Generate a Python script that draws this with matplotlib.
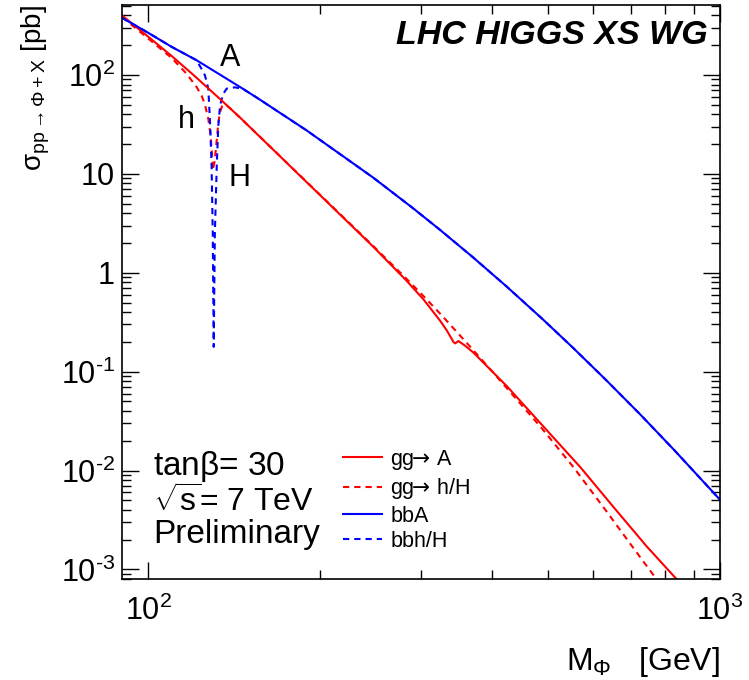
import numpy as np
import matplotlib
matplotlib.use('Agg')
import matplotlib.pyplot as plt
from matplotlib.lines import Line2D
from matplotlib.ticker import FixedLocator, FuncFormatter, LogLocator, NullFormatter

plt.rcParams['font.family'] = ['Liberation Sans', 'DejaVu Sans']
plt.rcParams['mathtext.fontset'] = 'custom'
plt.rcParams['mathtext.rm'] = 'Liberation Sans'
plt.rcParams['mathtext.it'] = 'Liberation Sans:italic'
plt.rcParams['mathtext.bf'] = 'Liberation Sans:bold'
plt.rcParams['mathtext.sf'] = 'DejaVu Sans'

## cross sections in pb (tanb = 30, 7 TeV)
M_ggA = [90, 100, 110, 120, 133.6, 144.7, 189.3, 247.6, 283.3, 302.9, 324, 333, 342,
         344.3, 348.7, 358, 370.6, 400, 423.9, 484.7, 569.6, 651.3, 745, 840.8]
sig_ggA = [400, 244, 155, 100, 57, 37.2, 8.24, 1.83, 0.826, 0.539, 0.327, 0.26, 0.199,
           0.193, 0.204, 0.1836, 0.1556, 0.0998, 0.0713, 0.0303, 0.01084, 0.00427,
           0.0017, 0.00079]

M_ggH = [90, 100, 110, 116.7, 121.5, 124.0, 125.7, 127.4, 128.5, 129.3, 129.8,
         130.8, 131.8, 132.6, 133.4, 134.6, 136.5, 140, 150, 189.3, 247.6, 283.3,
         302.9, 324, 342, 370.6, 400, 423.9, 484.7, 554.4, 632.4, 700, 780.4]
sig_ggH = [385, 234, 148, 103, 75.7, 62, 50, 36, 25, 16, 10.9,
           13.8, 22, 32, 41, 48, 50.5, 44.5, 30.4, 8.3, 1.86, 0.863,
           0.582, 0.386, 0.274, 0.164, 0.0998, 0.068, 0.028, 0.0108, 0.0039,
           0.00175, 0.00075]

M_bbA = [90, 100, 110, 121.5, 144.7, 155.8, 189.3, 247.6, 290, 324, 370, 423.9,
         490, 554.4, 630, 725.3, 830, 949, 1000]
sig_bbA = [379, 267, 192, 141, 75.7, 57.7, 27.5, 9.14, 4.53, 2.71, 1.43, 0.722,
           0.338, 0.1723, 0.0838, 0.0369, 0.0163, 0.00704, 0.00506]

M_bbH = [90, 100, 110, 121.5, 124.0, 125.7, 127.4, 128.4, 129.1, 129.7, 130.0, 130.2,
         130.8, 131.8, 132.6, 133.6, 135.2, 137.2, 141.8, 146.7, 155.8, 189.3, 247.6,
         290, 324, 370, 423.9, 490, 554.4, 630, 725.3, 830, 949, 1000]
sig_bbH = [379, 267, 192, 141, 115, 99, 72.8, 30, 11.8, 2.5, 0.53, 0.178,
           2.5, 11.8, 30, 49.3, 64, 72.8, 75, 72, 57.7, 27.5, 9.14,
           4.53, 2.71, 1.43, 0.722, 0.338, 0.1723, 0.0838, 0.0369, 0.0163, 0.00704,
           0.00506]

x_minor = [200, 300, 400, 500, 600, 700, 800, 900]


def decade_label(v, pos):
    e = int(round(np.log10(v)))
    if e == 0:
        return '1'
    if e == 1:
        return '10'
    if e < 0:
        return r'$\mathregular{10^{\text{-}%d}}$' % (-e)
    return r'$\mathregular{10^{%d}}$' % e


fig = plt.figure(figsize=(7.49, 6.80), dpi=100)
ax = fig.add_axes([122/749, 1-579/680, (720-122)/749, (579-5)/680])
ax.set_xscale('log')
ax.set_yscale('log')

dash = (0, (3, 2.4))
ax.plot(M_ggH, sig_ggH, color='#ff0000', lw=1.5, ls=dash)
ax.plot(M_bbH, sig_bbH, color='#0000ff', lw=1.5, ls=dash)
ax.plot(M_ggA, sig_ggA, color='#ff0000', lw=1.5)
ax.plot(M_bbA, sig_bbA, color='#0000ff', lw=1.5)

ax.set_xlim(90, 1000)
ax.set_ylim(8e-4, 510)

ax.xaxis.set_major_locator(FixedLocator([100, 1000]))
ax.xaxis.set_minor_locator(FixedLocator(x_minor))
ax.xaxis.set_major_formatter(FuncFormatter(decade_label))
ax.xaxis.set_minor_formatter(NullFormatter())
ax.yaxis.set_major_locator(LogLocator(base=10, numticks=20))
ax.yaxis.set_minor_locator(LogLocator(base=10, subs=np.arange(2, 10), numticks=20))
ax.yaxis.set_major_formatter(FuncFormatter(decade_label))
ax.yaxis.set_minor_formatter(NullFormatter())
ax.tick_params(which='both', direction='in', top=True, right=True, width=1)
ax.tick_params(which='major', length=12, labelsize=22)
ax.tick_params(which='minor', length=6.5)
ax.tick_params(axis='y', pad=5)
ax.tick_params(axis='x', pad=12)
for s in ax.spines.values():
    s.set_linewidth(1.2)

## curve labels
ax.text(139, 148, 'A', fontsize=22, ha='center', va='center')
ax.text(116.7, 35, 'h', fontsize=22, ha='center', va='center')
ax.text(144.3, 9.0, 'H', fontsize=22, ha='center', va='center')

fig.text(708/749, 1-35/680, 'LHC HIGGS XS WG', fontsize=24.5, fontweight='bold',
         fontstyle='italic', ha='right', va='center')
fig.text(153/749, 1-467/680, r'tan$\mathrm{\beta}$= 30', fontsize=24, ha='left', va='center')
fig.text(153/749, 1-502/680, r'$\mathrm{\sqrt{s}}$= 7 TeV', fontsize=23, ha='left', va='center')
fig.text(153/749, 1-535/680, 'Preliminary', fontsize=24, ha='left', va='center')

fig.text(36/749, 1-5/680, r'$\mathrm{\sigma_{pp \rightarrow \Phi + X}}$ [pb]', fontsize=20,
         rotation=90, ha='center', va='top')
fig.text(720/749, 1-662/680, r'M$_{\mathrm{\Phi}}$   [GeV]', fontsize=23, ha='right', va='center')

arrow = r'$\!\!\mathsf{\rightarrow}\!$'
handles = [Line2D([], [], color='#ff0000', lw=1.5, label='gg' + arrow + ' A'),
           Line2D([], [], color='#ff0000', lw=1.5, ls=dash, label='gg' + arrow + ' h/H'),
           Line2D([], [], color='#0000ff', lw=1.5, label='bbA'),
           Line2D([], [], color='#0000ff', lw=1.5, ls=dash, label='bbh/H')]
fig.legend(handles=handles, loc='upper left', bbox_to_anchor=(343/749, 1-448/680),
           frameon=False, fontsize=15.5, handlelength=1.8, handletextpad=0.4,
           labelspacing=0.2, borderpad=0, borderaxespad=0)

fig.savefig('out.png', dpi=100)
